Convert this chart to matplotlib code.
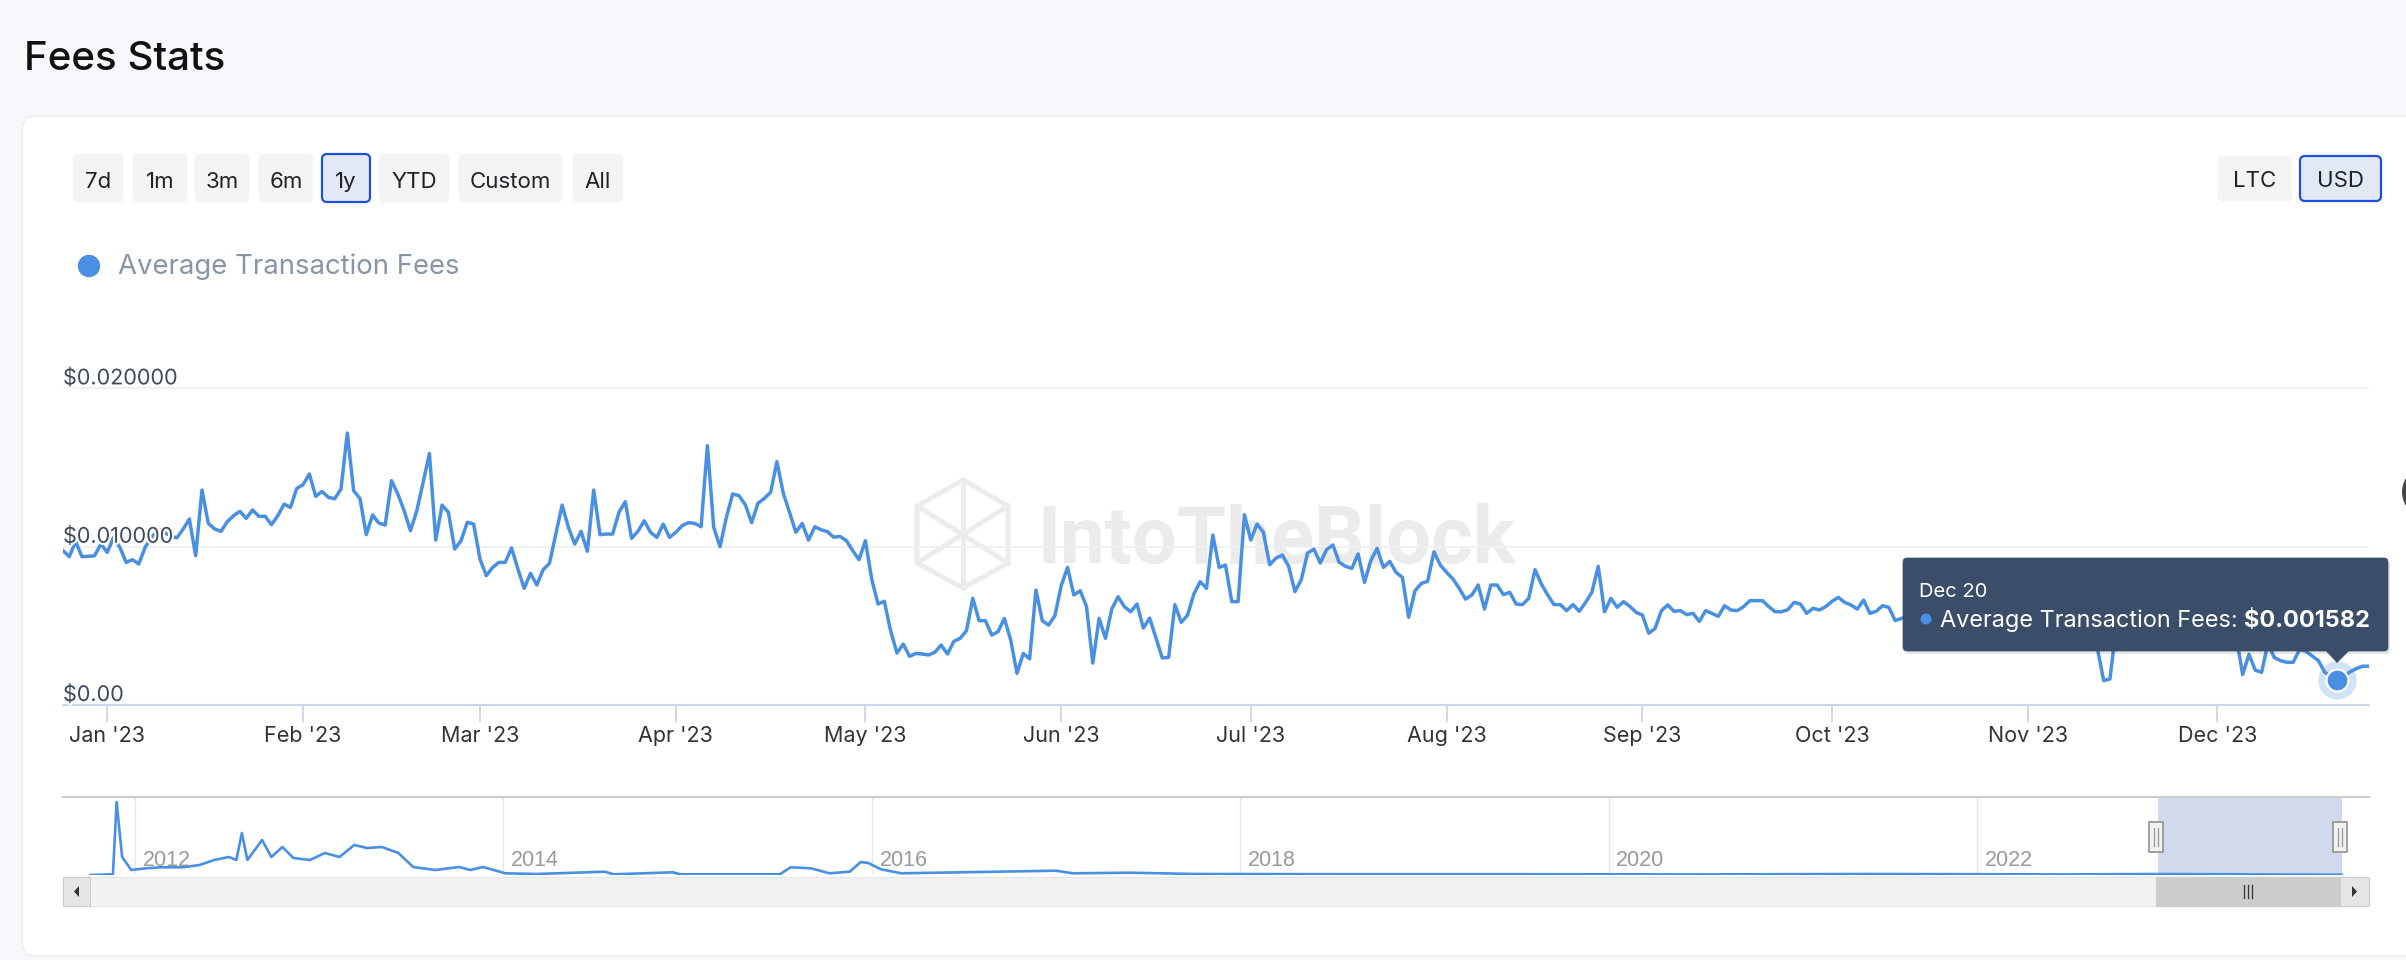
import numpy as np
import pandas as pd
import matplotlib
matplotlib.use('Agg')
import matplotlib.pyplot as plt
import matplotlib.patheffects as pe
from matplotlib.patches import FancyBboxPatch, Circle, Rectangle, Polygon

plt.rcParams['font.family'] = ['Inter', 'DejaVu Sans']

# Average transaction fee per day, in thousandths of a USD (Dec 25 2022 .. Dec 25 2023)
fees_dec22 = [9.75, 9.37, 10.34, 9.37, 9.39, 9.43, 10.17]
fees_jan = [9.64, 10.59, 9.96, 9.01, 9.18, 8.91, 9.96, 10.6, 11.0, 10.9, 10.7, 10.55, 11.1,
            11.75, 9.43, 13.58, 11.47, 11.12, 10.97, 11.58, 11.96, 12.23, 11.79, 12.32, 11.92,
            11.92, 11.39, 11.96, 12.69, 12.48, 13.68]
fees_feb = [13.92, 14.59, 13.18, 13.49, 13.12, 13.03, 13.64, 17.18, 13.54, 13.05, 10.76, 12.0,
            11.49, 11.37, 14.17, 13.33, 12.27, 11.01, 12.27, 14.06, 15.89, 10.42, 12.63, 12.17,
            9.85, 10.38, 11.54, 11.43]
fees_mar = [9.22, 8.17, 8.69, 9.01, 9.01, 9.92, 8.59, 7.37, 8.32, 7.58, 8.55, 8.95, 10.8, 12.63,
            11.22, 10.17, 10.97, 9.71, 13.58, 10.76, 10.8, 10.8, 12.17, 12.84, 10.53, 10.97,
            11.64, 10.91, 10.59, 11.43, 10.59]
fees_apr = [10.91, 11.33, 11.52, 11.47, 11.26, 16.38, 11.22, 10.0, 11.85, 13.33, 13.22, 12.65,
            11.52, 12.74, 13.05, 13.43, 15.37, 13.39, 12.17, 10.91, 11.47, 10.42, 11.26, 11.07,
            10.95, 10.6, 10.65, 10.38, 9.75, 9.18]
fees_may = [10.38, 7.96, 6.38, 6.55, 4.69, 3.28, 3.85, 3.07, 3.26, 3.22, 3.16, 3.33, 3.79, 3.22,
            4.02, 4.21, 4.69, 6.74, 5.33, 5.33, 4.42, 4.63, 5.47, 4.11, 2.0, 3.26, 2.91, 7.26,
            5.33, 5.05, 5.64]
fees_jun = [7.54, 8.69, 6.95, 7.22, 6.23, 2.65, 5.47, 4.21, 6.06, 6.84, 6.21, 5.89, 6.38, 4.86,
            5.49, 4.23, 2.97, 3.01, 6.34, 5.22, 5.68, 7.01, 7.79, 7.37, 10.74, 8.69, 8.84, 6.53,
            6.53, 12.02]
fees_jul = [10.42, 11.43, 10.91, 8.86, 9.28, 9.47, 8.76, 7.16, 7.92, 9.6, 9.85, 8.97, 9.81,
            10.11, 9.01, 8.76, 8.63, 9.54, 7.75, 9.12, 9.89, 8.69, 9.07, 8.38, 8.06, 5.54, 7.22,
            7.68, 7.81, 9.68, 8.84]
fees_aug = [8.38, 7.96, 7.37, 6.69, 6.95, 7.58, 6.06, 7.58, 7.58, 6.97, 7.12, 6.38, 6.34, 6.74,
            8.55, 7.64, 6.95, 6.34, 6.34, 5.96, 6.34, 5.92, 6.48, 7.12, 8.76, 5.89, 6.74, 6.17,
            6.53, 6.23, 5.85]
fees_sep = [5.68, 4.53, 4.84, 5.96, 6.32, 5.92, 5.96, 5.71, 5.79, 5.28, 5.96, 5.79, 5.6, 6.27,
            6.0, 5.96, 6.21, 6.59, 6.59, 6.59, 6.21, 5.89, 5.89, 6.02, 6.48, 6.38, 5.79, 6.11,
            6.0, 6.21]
fees_oct = [6.55, 6.8, 6.48, 6.32, 6.06, 6.63, 5.79, 5.92, 6.27, 6.17, 5.33, 5.47, 5.6, 5.9,
            6.2, 5.8, 6.0, 5.7, 6.3, 6.0, 5.5, 5.8, 6.1, 5.9, 5.4, 5.7, 6.0, 5.6, 5.2, 5.5, 5.8]
fees_nov = [5.3, 5.6, 5.9, 5.4, 5.1, 5.5, 5.7, 5.2, 4.9, 5.3, 4.8, 3.6, 1.54, 1.65, 5.0, 5.4,
            5.1, 5.6, 5.3, 4.9, 5.2, 5.5, 5.0, 4.6, 4.9, 5.2, 4.8, 4.4, 4.7, 5.0]
fees_dec = [4.6, 4.2, 4.5, 4.3, 1.92, 3.2, 2.2, 2.06, 3.9, 3.0, 2.8, 2.7, 2.7, 3.5, 3.4, 3.1,
            2.8, 2.06, 1.85, 1.582, 1.75, 2.1, 2.3, 2.45, 2.45]
start_date = '2022-12-25'

month_labels = ["Jan '23", "Feb '23", "Mar '23", "Apr '23", "May '23", "Jun '23",
                "Jul '23", "Aug '23", "Sep '23", "Oct '23", "Nov '23", "Dec '23"]
y_ticks = [0.0, 0.01, 0.02]
y_tick_labels = ['$0.00', '$0.010000', '$0.020000']

hover_date = '2023-12-20'
hover_label = 'Dec 20'
hover_value = 0.001582

# navigator: whole history (decimal year, USD)
nav_years = [2011.76, 2011.88, 2011.90, 2011.93, 2011.98, 2012.06, 2012.14, 2012.26, 2012.35,
             2012.43, 2012.51, 2012.55, 2012.58, 2012.61, 2012.69, 2012.74, 2012.80, 2012.86,
             2012.95, 2013.03, 2013.11, 2013.19, 2013.26, 2013.34, 2013.43, 2013.51, 2013.63,
             2013.76, 2013.82, 2013.89, 2014.01, 2014.18, 2014.55, 2014.60, 2014.92, 2014.96,
             2015.50, 2015.56, 2015.67, 2015.77, 2015.88, 2015.94, 2015.98, 2016.05, 2016.16,
             2017.00, 2017.09, 2017.40, 2017.76, 2018.5, 2019.5, 2020.5, 2021.4, 2022.5,
             2023.0, 2023.5, 2023.98]
nav_fees = [0.0, 0.007, 0.73, 0.18, 0.05, 0.067, 0.077, 0.077, 0.10, 0.15, 0.18, 0.15, 0.42,
            0.15, 0.35, 0.18, 0.28, 0.17, 0.15, 0.22, 0.18, 0.30, 0.27, 0.28, 0.22, 0.08, 0.05,
            0.08, 0.05, 0.08, 0.017, 0.01, 0.033, 0.007, 0.027, 0.007, 0.007, 0.077, 0.067,
            0.017, 0.033, 0.13, 0.12, 0.057, 0.017, 0.043, 0.017, 0.023, 0.01, 0.008, 0.008,
            0.006, 0.01, 0.006, 0.01, 0.006, 0.003]
nav_year_ticks = [2012, 2014, 2016, 2018, 2020, 2022]
nav_selection = (2022.98, 2023.98)

range_buttons = ['7d', '1m', '3m', '6m', '1y', 'YTD', 'Custom', 'All']
currency_buttons = ['LTC', 'USD']

W, H = 2406, 960
BLUE = '#4a90e2'

fees_milli = (fees_dec22 + fees_jan + fees_feb + fees_mar + fees_apr + fees_may + fees_jun +
              fees_jul + fees_aug + fees_sep + fees_oct + fees_nov + fees_dec)
fees = np.array(fees_milli) / 1000.0
dates = pd.date_range(start_date, periods=len(fees), freq='D')

fig = plt.figure(figsize=(W / 100, H / 100), dpi=100)
fig.patch.set_facecolor('#f7f8fb')


def pixel_axes(z):
    a = fig.add_axes([0, 0, 1, 1], zorder=z)
    a.set_xlim(0, W)
    a.set_ylim(H, 0)
    a.axis('off')
    a.patch.set_alpha(0)
    return a


def draw_button(a, x0, x1, y0, y1, label, selected):
    fc = '#e3e8f5' if selected else '#f4f4f5'
    ec = '#1f4fe0' if selected else '#f4f4f5'
    a.add_patch(FancyBboxPatch((x0, y0), x1 - x0, y1 - y0,
                               boxstyle='round,pad=0,rounding_size=5',
                               fc=fc, ec=ec, lw=1.6 if selected else 0.5))
    a.text((x0 + x1) / 2, y1 - 14, label, ha='center', va='baseline',
           fontsize=16, color='#1f2328')


bg = pixel_axes(0)

# card + header
bg.add_patch(FancyBboxPatch((22, 116), W, 840, boxstyle='round,pad=0,rounding_size=14',
                            fc='white', ec='#e8ebf0', lw=1))
bg.text(24, 70, 'Fees Stats', fontsize=29, fontweight='medium', color='#111111',
        va='baseline')

btn_x = [(73, 123), (133, 187), (195, 249), (259, 313), (322, 370), (379, 449),
         (459, 562), (573, 623)]
for (x0, x1), lab in zip(btn_x, range_buttons):
    draw_button(bg, x0, x1, 154, 202, lab, lab == '1y')
cur_x = [(2218, 2292), (2300, 2381)]
for (x0, x1), lab in zip(cur_x, currency_buttons):
    draw_button(bg, x0, x1, 156, 201, lab, lab == 'USD')

# legend
bg.add_patch(Circle((89, 266), 10.5, color=BLUE))
bg.text(118, 274, 'Average Transaction Fees', fontsize=19.8, color='#8795a5',
        va='baseline')

# watermark
hexa = [(963, 480), (1008, 506), (1008, 563), (963, 588), (917, 563), (917, 506)]
bg.add_patch(Polygon(hexa, closed=True, fill=False, ec='#ececec', lw=3.6))
bg.plot([963, 963], [480, 588], color='#ececec', lw=3.6)
bg.plot([917, 1008], [506, 563], color='#ececec', lw=3.6)
bg.plot([1008, 917], [506, 563], color='#ececec', lw=3.6)
wm = bg.text(1037, 563, 'IntoTheBlock', fontsize=50, fontweight='bold', color='#ebebeb',
             va='baseline', family=['Roboto', 'DejaVu Sans'])
renderer = fig.canvas.get_renderer()
wm.set_fontsize(50 * 478 / wm.get_window_extent(renderer).width)

# main chart
left, right, bottom_px, top_px = 63, 2369, 705, 315
ax = fig.add_axes([left / W, 1 - bottom_px / H, (right - left) / W, (bottom_px - top_px) / H],
                  zorder=2)
ax.patch.set_alpha(0)
ax.plot(dates, fees, color=BLUE, lw=2.5)
ax.set_xlim(dates[0], dates[-1])
ax.set_ylim(0, (bottom_px - top_px) * 0.01 / 158.3)

for s in ['top', 'right', 'left']:
    ax.spines[s].set_visible(False)
ax.spines['bottom'].set_color('#ccd6eb')
ax.spines['bottom'].set_linewidth(1.5)

# y labels sit above their grid lines, over the series (white outline like the site)
ax.set_yticks(y_ticks)
ax.set_yticklabels([])
ax.yaxis.grid(True, color='#f0f1f3', lw=1.4)
ax.tick_params(axis='y', length=0, pad=0)
for v, lab in zip(y_ticks, y_tick_labels):
    ax.text(0, v, lab, transform=ax.get_yaxis_transform(), ha='left', va='bottom',
            fontsize=15.5, color='#3c4a5c', zorder=6,
            path_effects=[pe.withStroke(linewidth=3, foreground='white')])

month_starts = pd.date_range('2023-01-01', periods=12, freq='MS')
ax.set_xticks(month_starts)
ax.set_xticklabels(month_labels)
ax.tick_params(axis='x', length=12, width=1.3, color='#ccd6eb', labelsize=15.5,
               labelcolor='#333333', pad=3)

hx = pd.Timestamp(hover_date)
ax.scatter([hx], [hover_value], s=760, color=BLUE, alpha=0.25, lw=0, zorder=3)
ax.scatter([hx], [hover_value], s=250, color=BLUE, edgecolor='white', lw=1.6, zorder=4)

# navigator
nav = fig.add_axes([left / W, 1 - 875 / H, (right - left) / W, (875 - 797) / H], zorder=1)
nav.patch.set_alpha(0)
nav.plot(nav_years, nav_fees, color=BLUE, lw=1.9)
nav.set_xlim(2011.609, 2024.128)
nav.set_ylim(0, 0.78)
nav.set_xticks(nav_year_ticks)
nav.set_yticks([])
nav.grid(axis='x', color='#e6e6e6', lw=1)
nav.tick_params(axis='x', length=0, labelbottom=False)
for s in ['bottom', 'right', 'left']:
    nav.spines[s].set_visible(False)
nav.spines['top'].set_color('#cccccc')
nav.spines['top'].set_linewidth(1.5)
for yr in nav_year_ticks:
    nav.annotate(str(yr), xy=(yr, 0), xycoords=('data', 'axes fraction'), xytext=(5.5, 10.8),
                 textcoords='offset points', fontsize=15.5, color='#999999', va='center',
                 family=['Liberation Sans'])
nav.axvspan(nav_selection[0], nav_selection[1], fc='#6685c2', alpha=0.3, lw=0)

# scrollbar
bg.add_patch(Rectangle((63, 877), 2306, 29, fc='#f2f2f2', ec='#e6e6e6', lw=0.8))
bg.add_patch(Rectangle((63, 877), 27, 29, fc='#e6e6e6', ec='#cccccc', lw=0.8))
bg.add_patch(Polygon([(79, 886), (79, 897), (74, 891.5)], fc='#333333'))
bg.add_patch(Rectangle((2156, 877), 184, 29, fc='#cccccc', ec='#cccccc', lw=0.8))
for dx in (-4, 0, 4):
    bg.plot([2248 + dx, 2248 + dx], [885, 898], color='#333333', lw=0.9)
bg.add_patch(Rectangle((2340, 877), 29, 29, fc='#e6e6e6', ec='#cccccc', lw=0.8))
bg.add_patch(Polygon([(2352, 886), (2352, 897), (2357, 891.5)], fc='#333333'))

ov = pixel_axes(5)
# navigator handles
for hxp in (2156, 2340):
    ov.add_patch(Rectangle((hxp - 7, 822), 14, 30, fc='#f2f2f2', ec='#999999', lw=1.3))
    for dx in (-2, 2):
        ov.plot([hxp + dx, hxp + dx], [828, 846], color='#999999', lw=0.9)

# tooltip
ov.add_patch(FancyBboxPatch((1905, 561), 485, 93, boxstyle='round,pad=0,rounding_size=4',
                            fc='black', alpha=0.10, lw=0))
ov.add_patch(FancyBboxPatch((1903, 558), 485, 93, boxstyle='round,pad=0,rounding_size=4',
                            fc='#3a4d69', ec='#3a4d69', lw=0.5))
ov.add_patch(Polygon([(2325, 650), (2350, 650), (2337, 663)], fc='#3a4d69', ec='none'))
ov.text(1919, 597, hover_label, fontsize=14.5, color='white', va='baseline')
ov.add_patch(Circle((1926, 619), 4.8, color=BLUE))
t1 = ov.text(1940, 627, 'Average Transaction Fees: ', fontsize=16.9, color='white',
             va='baseline')
ov.annotate('$%.6f' % hover_value, xy=(1, 0), xycoords=t1, fontsize=16.9, color='white',
            fontweight='bold', va='bottom', ha='left')

# cut-off control on the right edge
ov.add_patch(Circle((2428, 492), 26, fc='#454545', ec='none'))

fig.savefig('out.png', dpi=100, facecolor=fig.get_facecolor())
